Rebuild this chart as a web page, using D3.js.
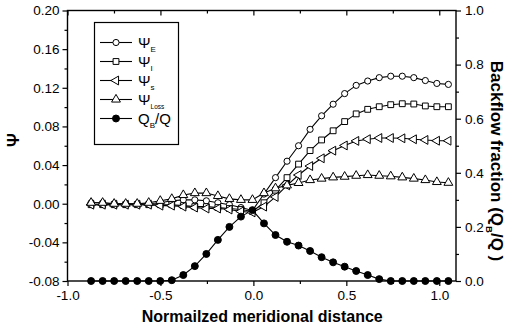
<!DOCTYPE html>
<html>
<head>
<meta charset="utf-8">
<script src="https://cdn.jsdelivr.net/npm/d3@7"></script>
<style>
  html, body { margin: 0; padding: 0; background: #fff; }
  svg { display: block; }
  text { font-family: "Liberation Sans", Arial, sans-serif; fill: #000; }
</style>
</head>
<body>
<svg id="chart" width="512" height="330"></svg>
<script>
// Normalized meridional position of each measurement station
const xPos = [-0.873, -0.811, -0.749, -0.687, -0.625, -0.563, -0.501, -0.439,
              -0.377, -0.315, -0.253, -0.191, -0.129, -0.067, -0.005, 0.057,
               0.119,  0.181,  0.243,  0.305,  0.367,  0.429,  0.491, 0.553,
               0.615,  0.677,  0.739,  0.801,  0.863,  0.925,  0.987, 1.049];

// Loss coefficients (left axis)
const psiE = [0.001, 0.001, 0.000, 0.000, 0.000, 0.000, 0.001, 0.003,
              0.004, 0.004, 0.003, 0.001, -0.001, -0.004, -0.007, 0.010,
              0.027, 0.044, 0.060, 0.077, 0.091, 0.103, 0.114, 0.1225,
              0.127, 0.1305, 0.132, 0.132, 0.1305, 0.1275, 0.1245, 0.1235];
const psiI = [-0.001, -0.001, -0.001, -0.001, -0.001, -0.001, -0.001, -0.001,
              -0.002, -0.003, -0.003, -0.004, -0.005, -0.006, -0.008, 0.001,
              0.014, 0.027, 0.041, 0.055, 0.066, 0.0755, 0.085, 0.093,
              0.0977, 0.1004, 0.1025, 0.1035, 0.1032, 0.1012, 0.1004, 0.1004];
const psiS = [-0.001, -0.001, -0.001, -0.001, -0.001, -0.001, -0.002, -0.002,
              -0.003, -0.004, -0.005, -0.005, -0.006, -0.008, -0.009, -0.003,
              0.007, 0.019, 0.0297, 0.039, 0.047, 0.0549, 0.0603, 0.065,
              0.0668, 0.068, 0.068, 0.0677, 0.0667, 0.066, 0.0652, 0.0652];
const psiLoss = [0.001, 0.001, 0.000, 0.000, 0.000, 0.001, 0.003, 0.005,
                 0.009, 0.011, 0.011, 0.008, 0.005, 0.004, 0.004, 0.011,
                 0.016, 0.019, 0.0215, 0.0245, 0.026, 0.0273, 0.028, 0.029,
                 0.0297, 0.029, 0.0284, 0.0273, 0.026, 0.0245, 0.0225, 0.0217];

// Backflow fraction Q_B/Q (right axis)
const backflow = [0, 0, 0, 0, 0, 0, 0, 0.003,
                  0.022, 0.055, 0.100, 0.152, 0.200, 0.238, 0.262, 0.213,
                  0.170, 0.145, 0.131, 0.111, 0.088, 0.069, 0.053, 0.037,
                  0.022, 0.007, 0, 0, 0, 0, 0, 0];

// Tick values
const xMajor = [-1.0, -0.5, 0.0, 0.5, 1.0];
const xMinor = [-0.75, -0.25, 0.25, 0.75];
const yMajor = [-0.08, -0.04, 0.00, 0.04, 0.08, 0.12, 0.16, 0.20];
const yMinor = [-0.06, -0.02, 0.02, 0.06, 0.10, 0.14, 0.18];
const rMajor = [0.0, 0.2, 0.4, 0.6, 0.8, 1.0];
const rMinor = [0.1, 0.3, 0.5, 0.7, 0.9];

const svg = d3.select("#chart");
const L = 67.5, R = 456, T = 10.5, B = 281;

const x = d3.scaleLinear().domain([-1.0, 1.09]).range([L, R]);
const y = d3.scaleLinear().domain([-0.08, 0.20]).range([B, T]);
const yR = d3.scaleLinear().domain([0, 1.0]).range([B, T]);

const hy = s => s.replace("\u2212", "-");
const f2 = v => hy(d3.format(".2f")(v));
const f1 = v => hy(d3.format(".1f")(v));

function styleAxis(g) {
  g.select(".domain").remove();
  g.selectAll("line").attr("stroke", "#000").attr("stroke-width", 1.2);
  g.selectAll("text").style("font-size", "13.5px").attr("fill", "#000");
}

// Frame
svg.append("rect").attr("x", L).attr("y", T).attr("width", R - L).attr("height", B - T)
  .attr("fill", "none").attr("stroke", "#000").attr("stroke-width", 1.4);

// Bottom axis
svg.append("g").attr("transform", `translate(0,${B})`)
  .call(d3.axisBottom(x).tickValues(xMajor).tickFormat(f1).tickSize(5).tickPadding(4)).call(styleAxis);
svg.append("g").attr("transform", `translate(0,${B})`)
  .call(d3.axisBottom(x).tickValues(xMinor).tickFormat("").tickSize(3)).call(styleAxis);
// Top axis (inward ticks)
svg.append("g").attr("transform", `translate(0,${T})`)
  .call(d3.axisBottom(x).tickValues(xMajor).tickFormat("").tickSize(5)).call(styleAxis);
svg.append("g").attr("transform", `translate(0,${T})`)
  .call(d3.axisBottom(x).tickValues(xMinor).tickFormat("").tickSize(3)).call(styleAxis);

// Left axis
svg.append("g").attr("transform", `translate(${L},0)`)
  .call(d3.axisLeft(y).tickValues(yMajor).tickFormat(f2).tickSize(5).tickPadding(3)).call(styleAxis);
svg.append("g").attr("transform", `translate(${L},0)`)
  .call(d3.axisLeft(y).tickValues(yMinor).tickFormat("").tickSize(3)).call(styleAxis);

// Right axis
svg.append("g").attr("transform", `translate(${R},0)`)
  .call(d3.axisRight(yR).tickValues(rMajor).tickFormat(f1).tickSize(5).tickPadding(4)).call(styleAxis);
svg.append("g").attr("transform", `translate(${R},0)`)
  .call(d3.axisRight(yR).tickValues(rMinor).tickFormat("").tickSize(3)).call(styleAxis);

// Axis titles
svg.append("text").attr("x", (L + R) / 2 + 0.5).attr("y", 322)
  .attr("text-anchor", "middle").style("font-size", "16px").style("font-weight", "bold")
  .text("Normailzed meridional distance");

svg.append("text").attr("transform", "translate(19,140) rotate(-90)")
  .attr("text-anchor", "middle").style("font-size", "17px").style("font-weight", "bold")
  .text("\u03A8");

const rt = svg.append("text").attr("transform", "translate(491,161) rotate(90)")
  .attr("text-anchor", "middle").style("font-size", "17px").style("font-weight", "bold");
rt.append("tspan").text("Backflow fraction (Q");
rt.append("tspan").attr("dy", 5).style("font-size", "9.5px").text("B");
rt.append("tspan").attr("dy", -5).text("/Q )");

// Marker shapes
const sym = {
  circle: d3.symbol().type(d3.symbolCircle).size(30),
  square: d3.symbol().type(d3.symbolSquare).size(34),
  triUp: d3.symbol().type(d3.symbolTriangle).size(34),
  dot: d3.symbol().type(d3.symbolCircle).size(38)
};

const series = [
  { name: "E", vals: psiE, scale: y, marker: "circle", rot: 0, fill: "#fff" },
  { name: "I", vals: psiI, scale: y, marker: "square", rot: 0, fill: "#fff" },
  { name: "s", vals: psiS, scale: y, marker: "triUp", rot: -90, fill: "#fff" },
  { name: "Loss", vals: psiLoss, scale: y, marker: "triUp", rot: 0, fill: "#fff" },
  { name: "B", vals: backflow, scale: yR, marker: "dot", rot: 0, fill: "#000" }
];

const line = sc => d3.line().x((d, i) => x(xPos[i])).y(d => sc(d));

series.forEach(s => {
  svg.append("path").datum(s.vals).attr("d", line(s.scale))
    .attr("fill", "none").attr("stroke", "#000").attr("stroke-width", 1.1);
});
series.forEach(s => {
  svg.append("g").selectAll("path").data(s.vals).join("path")
    .attr("d", sym[s.marker])
    .attr("transform", (d, i) => `translate(${x(xPos[i])},${s.scale(d)}) rotate(${s.rot})`)
    .attr("fill", s.fill).attr("stroke", "#000").attr("stroke-width", 1);
});

// Legend
const lg = svg.append("g");
lg.append("rect").attr("x", 94.5).attr("y", 22.5).attr("width", 84).attr("height", 122)
  .attr("fill", "#fff").attr("stroke", "#000").attr("stroke-width", 1.2);
const legY = [42.5, 61.5, 80.5, 99.5, 118.5];
series.forEach((s, k) => {
  const yy = legY[k];
  lg.append("line").attr("x1", 100).attr("x2", 132).attr("y1", yy).attr("y2", yy)
    .attr("stroke", "#000").attr("stroke-width", 1.1);
  lg.append("path").attr("d", sym[s.marker])
    .attr("transform", `translate(116,${yy}) rotate(${s.rot})`)
    .attr("fill", s.fill).attr("stroke", "#000").attr("stroke-width", 1);
  const t = lg.append("text").attr("x", 138).attr("y", yy + 5).style("font-size", "15px");
  if (s.name === "B") {
    t.append("tspan").text("Q");
    t.append("tspan").attr("dy", 4).style("font-size", "8px").text("B");
    t.append("tspan").attr("dy", -4).text("/Q");
  } else {
    t.append("tspan").text("\u03A8");
    t.append("tspan").attr("dy", 4).style("font-size", s.name === "Loss" ? "6.5px" : "8px").text(s.name);
  }
});
</script>
</body>
</html>
